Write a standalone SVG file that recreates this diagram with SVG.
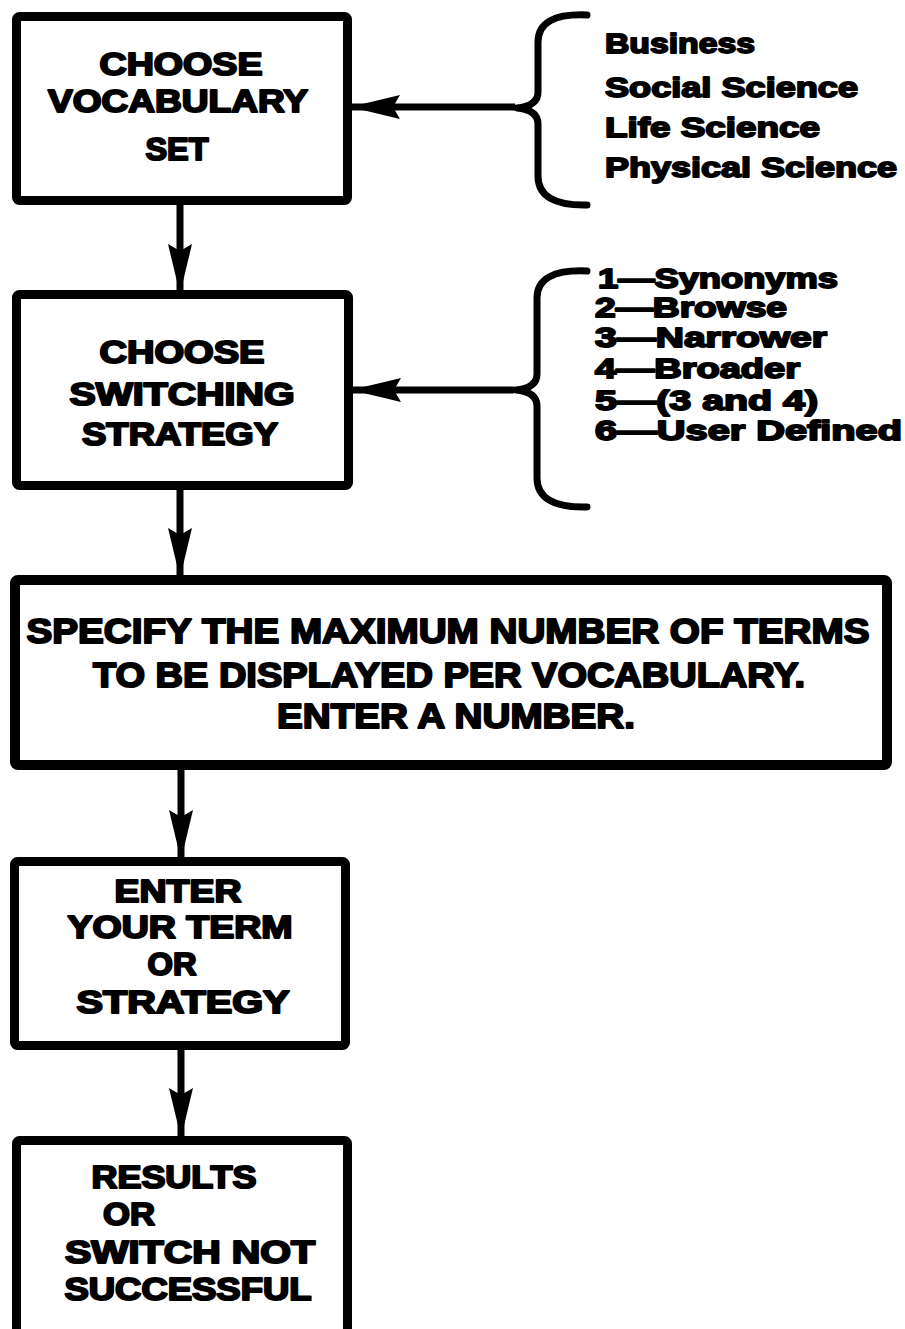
<svg xmlns="http://www.w3.org/2000/svg" width="905" height="1329" viewBox="0 0 905 1329">
  <style>
    .box { fill: #fff; stroke: #000; stroke-width: 9; }
    .lbl { font-family: "Liberation Sans", Arial, sans-serif; font-weight: bold; fill: #000; stroke: #000; stroke-width: 2; stroke-linejoin: round; text-anchor: middle; }
    .big { font-size: 31px; }
    .wide { font-size: 35px; }
    .opt { font-family: "Liberation Sans", Arial, sans-serif; font-weight: bold; fill: #000; stroke: #000; stroke-width: 1.8; stroke-linejoin: round; }
    .o1 { font-size: 28px; }
    .o2 { font-size: 27px; }
    .wire { fill: none; stroke: #000; stroke-width: 7; }
    .brace { fill: none; stroke: #000; stroke-width: 7; stroke-linecap: round; stroke-linejoin: round; }
  </style>
  <defs>
    <marker id="head" markerUnits="userSpaceOnUse" markerWidth="52" markerHeight="28" viewBox="0 0 52 28" refX="50" refY="14" orient="auto">
      <path d="M50,14 L0,2 L7,14 L0,26 Z" fill="#000"/>
    </marker>
  </defs>

  <rect width="905" height="1329" fill="#fff"/>

  <!-- connectors -->
  <g id="connectors">
    <line class="wire" x1="180" y1="205" x2="180" y2="294" marker-end="url(#head)"/>
    <line class="wire" x1="180" y1="490" x2="180" y2="578" marker-end="url(#head)"/>
    <line class="wire" x1="181" y1="770" x2="181" y2="860" marker-end="url(#head)"/>
    <line class="wire" x1="181" y1="1050" x2="181" y2="1138" marker-end="url(#head)"/>
    <line class="wire" x1="515" y1="107" x2="350" y2="107" marker-end="url(#head)"/>
    <line class="wire" x1="514" y1="390" x2="351" y2="390" marker-end="url(#head)"/>
  </g>

  <!-- vocabulary choices -->
  <g id="vocab-options">
    <path class="brace" d="M587,15 Q538,13 538,42 L538,92 Q538,106 517,108 Q538,110 538,124 L538,176 Q538,206 587,205"/>
    <text class="opt o1" x="605" y="53" textLength="150" lengthAdjust="spacingAndGlyphs">Business</text>
    <text class="opt o1" x="605" y="97" textLength="253" lengthAdjust="spacingAndGlyphs">Social Science</text>
    <text class="opt o1" x="605" y="137" textLength="215" lengthAdjust="spacingAndGlyphs">Life Science</text>
    <text class="opt o1" x="605" y="177" textLength="292" lengthAdjust="spacingAndGlyphs">Physical Science</text>
  </g>

  <!-- switching strategies -->
  <g id="strategy-options">
    <path class="brace" d="M587,271 Q537,269 537,298 L537,374 Q537,388 516,390 Q537,392 537,406 L537,478 Q537,508 587,507"/>
    <text class="opt o2" x="598" y="288" textLength="240" lengthAdjust="spacingAndGlyphs">1—Synonyms</text>
    <text class="opt o2" x="595" y="317" textLength="192" lengthAdjust="spacingAndGlyphs">2—Browse</text>
    <text class="opt o2" x="595" y="347" textLength="232" lengthAdjust="spacingAndGlyphs">3—Narrower</text>
    <text class="opt o2" x="595" y="378" textLength="205" lengthAdjust="spacingAndGlyphs">4—Broader</text>
    <text class="opt o2" x="595" y="410" textLength="223" lengthAdjust="spacingAndGlyphs">5—(3 and 4)</text>
    <text class="opt o2" x="595" y="440" textLength="307" lengthAdjust="spacingAndGlyphs">6—User Defined</text>
  </g>

  <!-- step 1 -->
  <g id="choose-vocabulary">
    <rect class="box" x="16.5" y="16.5" width="331" height="184" rx="3"/>
    <text class="lbl big" x="181" y="75" textLength="163" lengthAdjust="spacingAndGlyphs">CHOOSE</text>
    <text class="lbl big" x="178" y="112" textLength="260" lengthAdjust="spacingAndGlyphs">VOCABULARY</text>
    <text class="lbl big" x="177" y="160" textLength="63" lengthAdjust="spacingAndGlyphs">SET</text>
  </g>

  <!-- step 2 -->
  <g id="choose-strategy">
    <rect class="box" x="16.5" y="294.5" width="332" height="191" rx="3"/>
    <text class="lbl big" x="182" y="363" textLength="165" lengthAdjust="spacingAndGlyphs">CHOOSE</text>
    <text class="lbl big" x="182" y="405" textLength="225" lengthAdjust="spacingAndGlyphs">SWITCHING</text>
    <text class="lbl big" x="180" y="445" textLength="196" lengthAdjust="spacingAndGlyphs">STRATEGY</text>
  </g>

  <!-- step 3 -->
  <g id="max-terms">
    <rect class="box" x="15" y="580" width="872" height="185" rx="3" style="stroke-width:10"/>
    <text class="lbl wide" x="448" y="643" textLength="843" lengthAdjust="spacingAndGlyphs">SPECIFY THE MAXIMUM NUMBER OF TERMS</text>
    <text class="lbl wide" x="449" y="687" textLength="712" lengthAdjust="spacingAndGlyphs">TO BE DISPLAYED PER VOCABULARY.</text>
    <text class="lbl wide" x="456" y="728" textLength="358" lengthAdjust="spacingAndGlyphs">ENTER A NUMBER.</text>
  </g>

  <!-- step 4 -->
  <g id="enter-term">
    <rect class="box" x="14.5" y="861.5" width="331" height="184" rx="3"/>
    <text class="lbl big" x="178" y="902" textLength="127" lengthAdjust="spacingAndGlyphs">ENTER</text>
    <text class="lbl big" x="180" y="938" textLength="225" lengthAdjust="spacingAndGlyphs">YOUR TERM</text>
    <text class="lbl big" x="172" y="975" textLength="49" lengthAdjust="spacingAndGlyphs">OR</text>
    <text class="lbl big" x="183" y="1013" textLength="213" lengthAdjust="spacingAndGlyphs">STRATEGY</text>
  </g>

  <!-- step 5 -->
  <g id="results">
    <rect class="box" x="16.5" y="1140.5" width="331" height="220" rx="3"/>
    <text class="lbl big" x="174" y="1188" textLength="165" lengthAdjust="spacingAndGlyphs">RESULTS</text>
    <text class="lbl big" x="129" y="1225" textLength="52" lengthAdjust="spacingAndGlyphs">OR</text>
    <text class="lbl big" x="190" y="1263" textLength="250" lengthAdjust="spacingAndGlyphs">SWITCH NOT</text>
    <text class="lbl big" x="188" y="1300" textLength="247" lengthAdjust="spacingAndGlyphs">SUCCESSFUL</text>
  </g>
</svg>
